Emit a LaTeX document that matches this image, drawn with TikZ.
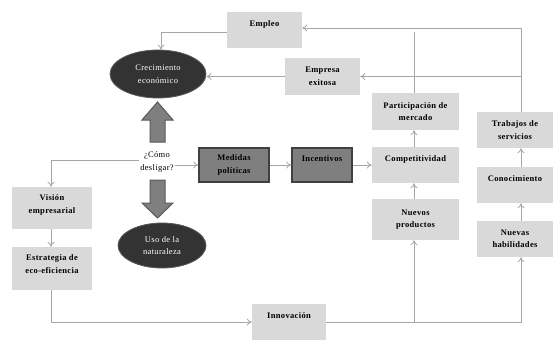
\documentclass[tikz,border=0pt]{standalone}
\usepackage{fontspec}
\setmainfont[LetterSpace=4]{Liberation Serif}
\usetikzlibrary{arrows.meta,shapes.geometric}
\definecolor{lgray}{HTML}{D9D9D9}
\definecolor{mgray}{HTML}{7F7F7F}
\definecolor{bdark}{HTML}{404040}
\definecolor{edark}{HTML}{333333}
\definecolor{ebord}{HTML}{595959}
\definecolor{lcol}{HTML}{A6A6A6}
\tikzset{
  box/.style={fill=lgray, draw=none, align=center, inner sep=1pt,
    font=\fontsize{8.5}{12.5}\selectfont\bfseries},
  dbox/.style={box, fill=mgray, draw=bdark, line width=1.5pt},
  one/.style={text height=6pt, text depth=12.6pt},
  oval/.style={ellipse, fill=edark, draw=ebord, line width=0.8pt, text=white,
    align=center, inner sep=0pt, font=\fontsize{8.5}{12.5}\selectfont},
  conn/.style={draw=lcol, line width=0.8pt},
  arr/.style={conn, -{To[length=5pt,width=7pt]}},
  blockarrow/.style={fill=mgray, draw=ebord, line width=1pt, line join=miter},
}
\begin{document}
\begin{tikzpicture}[x=1pt,y=-1pt]
\useasboundingbox (0,0) rectangle (555,341);
% boxes
\node[box, one, minimum width=75pt, minimum height=36pt] (emp) at (264.5,30) {Empleo};
\node[box, minimum width=75pt, minimum height=37pt] (exi) at (322.5,76.5) {Empresa\\exitosa};
\node[box, minimum width=87pt, minimum height=37pt] (par) at (415.5,111.5) {Participación de\\mercado};
\node[box, one, minimum width=87pt, minimum height=36pt] (com) at (415.5,165) {Competitividad};
\node[box, minimum width=87pt, minimum height=41pt] (nue) at (415.5,219.5) {Nuevos\\productos};
\node[box, minimum width=76pt, minimum height=36pt] (tra) at (515,130) {Trabajos de\\servicios};
\node[box, one, minimum width=76pt, minimum height=36pt] (con) at (515,185) {Conocimiento};
\node[box, minimum width=76pt, minimum height=36pt] (hab) at (515,239) {Nuevas\\habilidades};
\node[box, one, minimum width=74pt, minimum height=36pt] (inn) at (289,322) {Innovación};
\node[box, minimum width=80pt, minimum height=42pt] (vis) at (52,208) {Visión\\empresarial\\[-5pt]};
\node[box, minimum width=80pt, minimum height=43pt] (est) at (52,268.5) {Estrategia de\\eco-eficiencia\\[-4pt]};
\node[dbox, minimum width=70pt, minimum height=34pt] (med) at (234,165) {Medidas\\políticas};
\node[dbox, one, minimum width=60pt, minimum height=34pt] (inc) at (322,165) {Incentivos};
% ellipses
\node[oval, minimum width=96pt, minimum height=48pt] (cre) at (158,74) {Crecimiento\\económico};
\node[oval, minimum width=88pt, minimum height=45pt] (uso) at (162,245.5) {Uso de la\\naturaleza};
% question
\node[align=center, inner sep=1pt, font=\fontsize{8.5}{12.5}\selectfont] (q) at (157,162) {¿Cómo\\desligar?};
% block arrows
\draw[blockarrow] (142,120) -- (157.5,102) -- (173,120) -- (165,120) -- (165,142) -- (150,142) -- (150,120) -- cycle;
\draw[blockarrow] (150,180) -- (165,180) -- (165,203) -- (173,203) -- (157.5,218) -- (142,203) -- (150,203) -- cycle;
% connectors
\draw[arr] ([yshift=-2pt]emp.west) -| ([xshift=3pt]cre.north);
\draw[arr] ([xshift=6pt]tra.north) |- ([yshift=2pt]emp.east);
\draw[arr] ([xshift=6pt]tra.north) |- (exi.east);
\draw[conn] ([xshift=-1.5pt]par.north) -- ([xshift=-1.5pt]par.north |- 0,32);
\draw[arr] (exi.west) -- (cre.east |- exi.west);
\draw[arr] ([yshift=2pt]q.west) -| ([xshift=-1pt]vis.north);
\draw[arr] (q.east |- med.west) -- (med.west);
\draw[arr] (med.east) -- (inc.west);
\draw[arr] (inc.east) -- (com.west);
\draw[arr] ([xshift=-1.5pt]com.north) -- ([xshift=-1.5pt]par.south);
\draw[arr] ([xshift=-1.5pt]nue.north) -- ([xshift=-1.5pt]com.south);
\draw[arr] ([xshift=6pt]con.north) -- ([xshift=6pt]tra.south);
\draw[arr] ([xshift=6pt]hab.north) -- ([xshift=6pt]con.south);
\draw[arr] ([xshift=-1pt]vis.south) -- ([xshift=-1pt]est.north);
\draw[arr] ([xshift=-1pt]est.south) |- (inn.west);
\draw[arr] (inn.east) -| ([xshift=6pt]hab.south);
\draw[arr] ([xshift=-1.5pt]nue.south |- inn.east) -- ([xshift=-1.5pt]nue.south);
\end{tikzpicture}
\end{document}
